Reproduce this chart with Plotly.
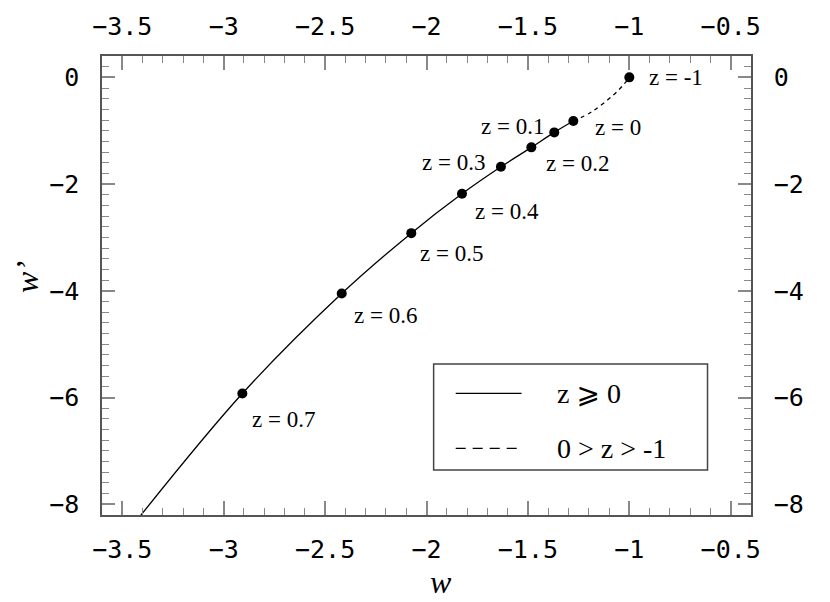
import plotly.graph_objects as go

# marked points along the curve (w, w') for each redshift
z_labels = ["z = -1", "z = 0", "z = 0.1", "z = 0.2", "z = 0.3",
            "z = 0.4", "z = 0.5", "z = 0.6", "z = 0.7"]
w_pts = [-1.0, -1.276, -1.370, -1.483, -1.633, -1.825, -2.075, -2.418, -2.908]
wp_pts = [0.0, -0.819, -1.031, -1.312, -1.676, -2.182, -2.919, -4.05, -5.924]

# solid branch (z >= 0), runs off the bottom of the frame
solid_w = [-1.276, -1.370, -1.483, -1.633, -1.825, -2.075, -2.418, -2.908, -3.46]
solid_wp = [-0.819, -1.031, -1.312, -1.676, -2.182, -2.919, -4.05, -5.924, -8.45]

# dashed branch (0 > z > -1)
dashed_w = [-1.276, -1.185, -1.079, -1.030, -1.0]
dashed_wp = [-0.819, -0.645, -0.332, -0.144, 0.0]

legend_labels = ["z \u2a7e 0", "0 > z > -1"]

# label placement next to each point: (xanchor, xshift, yshift)
label_offsets = [("left", 18, 0), ("left", 20, -6), ("right", -8, 6),
                 ("left", 13, -16), ("right", -14, 4), ("left", 11, -18),
                 ("left", 7, -20), ("left", 10, -22), ("left", 8, -26)]

serif = "Liberation Serif, Times New Roman, serif"
mono = "DejaVu Sans Mono, monospace"

fig = go.Figure()
fig.add_trace(go.Scatter(x=solid_w, y=solid_wp, mode="lines", line_shape="spline",
                         line=dict(color="black", width=1.3)))
fig.add_trace(go.Scatter(x=dashed_w, y=dashed_wp, mode="lines", line_shape="spline",
                         line=dict(color="black", width=1.3, dash="4px,4px")))
fig.add_trace(go.Scatter(x=w_pts, y=wp_pts, mode="markers",
                         marker=dict(color="black", size=10)))
# empty trace so the mirrored top/right axes get drawn
fig.add_trace(go.Scatter(x=[], y=[], xaxis="x2", yaxis="y2", hoverinfo="skip"))

for lab, xx, yy, (anc, dx, dy) in zip(z_labels, w_pts, wp_pts, label_offsets):
    fig.add_annotation(x=xx, y=yy, text=lab, showarrow=False, xanchor=anc,
                       yanchor="middle", xshift=dx, yshift=dy,
                       font=dict(family=serif, size=23, color="black"))

# legend box drawn by hand
fig.add_shape(type="rect", xref="paper", yref="paper", x0=0.511, x1=0.933,
              y0=0.098, y1=0.329, line=dict(color="#444", width=1.5),
              fillcolor="white", layer="above")
fig.add_shape(type="line", xref="paper", yref="paper", x0=0.545, x1=0.6465,
              y0=0.265, y1=0.265, line=dict(color="black", width=1.3))
fig.add_shape(type="line", xref="paper", yref="paper", x0=0.545, x1=0.6465,
              y0=0.145, y1=0.145, line=dict(color="black", width=1.3, dash="10px,7px"))
for lab, yy in zip(legend_labels, [0.265, 0.145]):
    fig.add_annotation(x=0.698, y=yy, xref="paper", yref="paper", text=lab,
                       showarrow=False, xanchor="left", yanchor="middle",
                       font=dict(family=serif + ", DejaVu Sans", size=28, color="black"))

# axis titles
fig.add_annotation(x=0.522, y=-0.1459, xref="paper", yref="paper", text="<i>w</i>",
                   showarrow=False, xanchor="center", yanchor="middle",
                   font=dict(family=serif, size=32, color="black"))
fig.add_annotation(x=-0.1145, y=0.518, xref="paper", yref="paper", text="<i>w\u2019</i>",
                   showarrow=False, textangle=-90, xanchor="center", yanchor="middle",
                   font=dict(family=serif, size=32, color="black"))

ax_common = dict(ticks="inside", tickcolor="#888", tickwidth=1.5, showline=True,
                 linecolor="#555", linewidth=1.5, showgrid=False, zeroline=False,
                 automargin=False,
                 tickfont=dict(family=mono, size=25, color="black"))

x_minor = dict(dtick=0.1, ticklen=7, ticks="inside", tickcolor="#888", tickwidth=1.3)
y_minor = dict(dtick=0.2, ticklen=7, ticks="inside", tickcolor="#888", tickwidth=1.3)

# page body has an 8px margin, so the figure is 8px smaller each way
fig.update_layout(
    width=822, height=594,
    margin=dict(l=94, r=79, t=48, b=87),
    paper_bgcolor="white", plot_bgcolor="white",
    showlegend=False,
    xaxis=dict(range=[-3.6, -0.4], tick0=-3.5, dtick=0.5, ticklen=14,
               minor=x_minor, ticklabelstandoff=11, **ax_common),
    xaxis2=dict(range=[-3.6, -0.4], tick0=-3.5, dtick=0.5, ticklen=14, side="top",
                overlaying="x", anchor="y", minor=x_minor, ticklabelstandoff=9,
                **ax_common),
    yaxis=dict(range=[-8.2, 0.4], tick0=0, dtick=2, ticklen=13,
               minor=y_minor, ticklabelstandoff=16, **ax_common),
    yaxis2=dict(range=[-8.2, 0.4], tick0=0, dtick=2, ticklen=13, side="right",
                overlaying="y", anchor="x", minor=y_minor, ticklabelstandoff=16,
                **ax_common),
)

fig.write_html("out.html")
